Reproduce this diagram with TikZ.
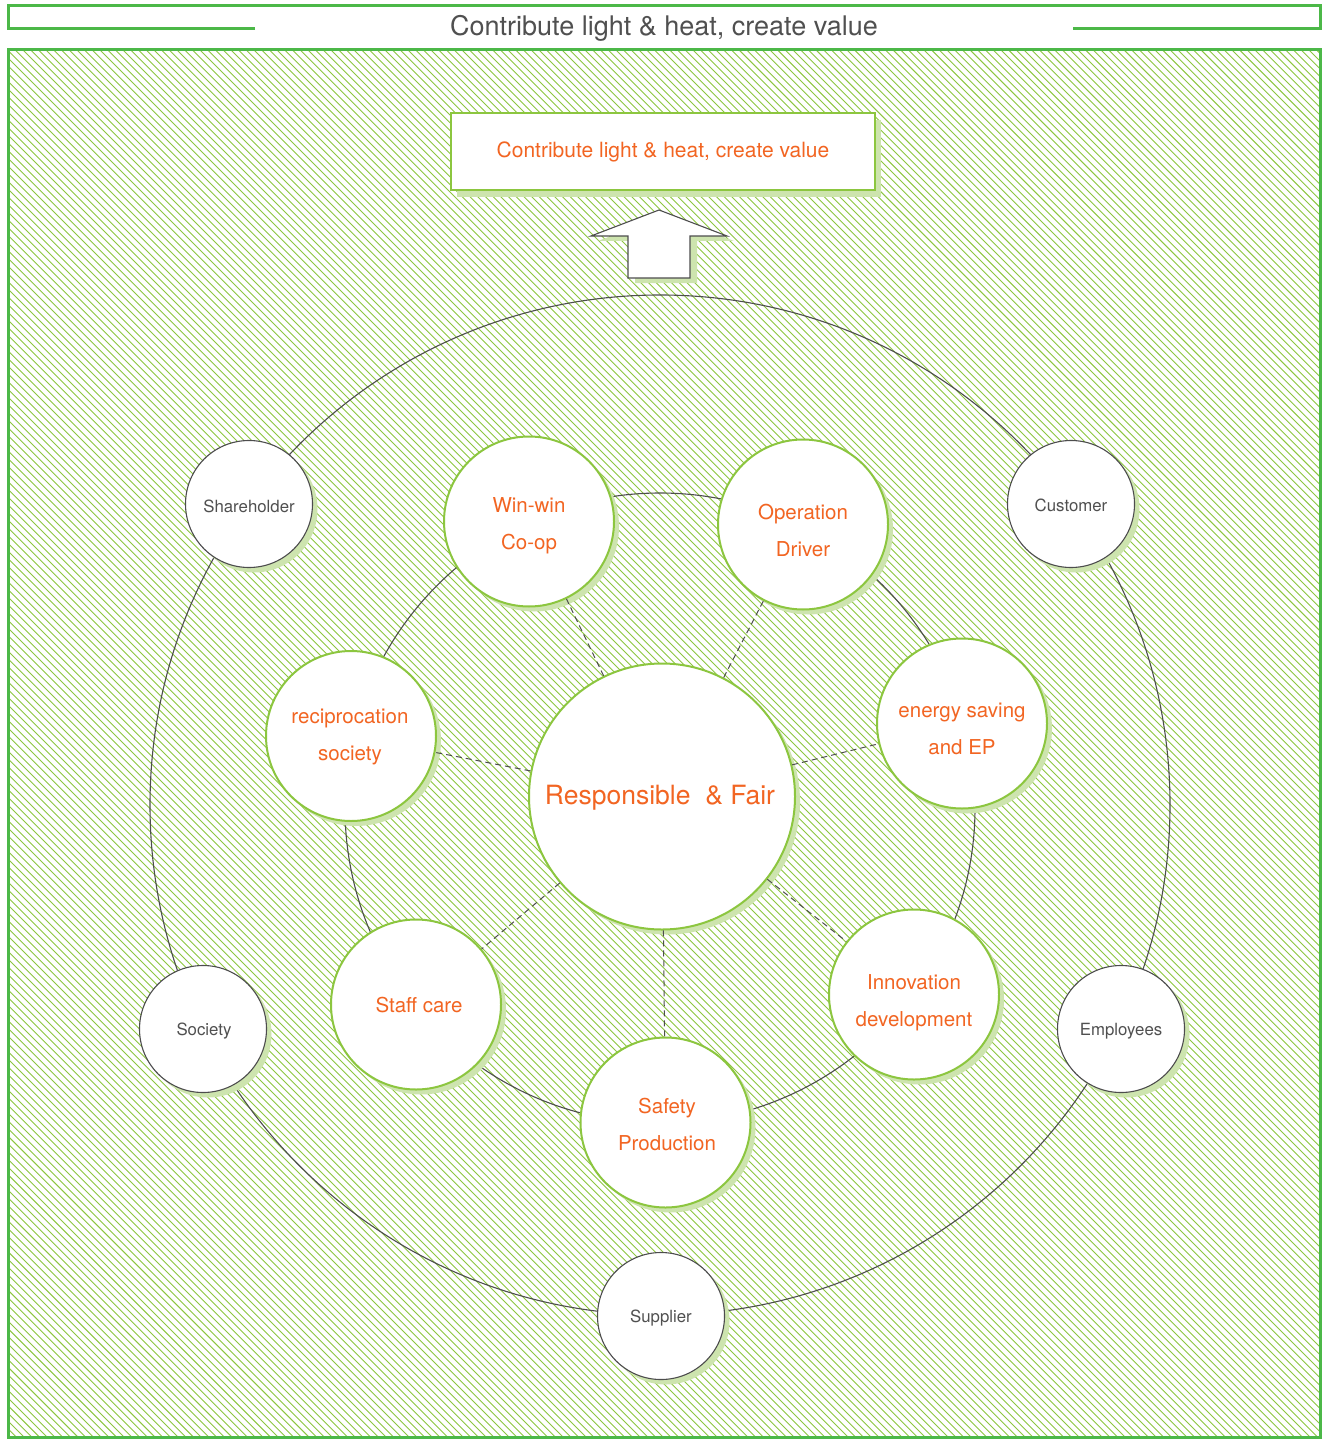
\documentclass[tikz,border=0pt]{standalone}
\usepackage{fontspec}
\setmainfont{TeX Gyre Heros}
\definecolor{framegreen}{HTML}{4CB848}
\definecolor{hatchgreen}{HTML}{8DC63F}
\definecolor{circgreen}{HTML}{8CC63F}
\definecolor{shadowgreen}{HTML}{CDE4AE}
\definecolor{orangetxt}{HTML}{F26522}
\definecolor{graytxt}{HTML}{505050}
\definecolor{ringgray}{HTML}{4D4D4D}
\tikzset{
  hatch/.style={draw=hatchgreen, line width=0.9pt},
  frame/.style={draw=framegreen, line width=3pt},
  ring/.style={draw=ringgray, line width=1.1pt},
  gshadow/.style={preaction={draw=none, fill=shadowgreen, transform canvas={xshift=5pt, yshift=-5pt}}},
  valuebox/.style={circle, draw=circgreen, line width=2pt, fill=white, minimum size=170pt, inner sep=0pt, gshadow},
  valtext/.style={text=orangetxt, align=center, font=\fontsize{20.5}{37}\selectfont, inner sep=0pt},
  corebox/.style={circle, draw=circgreen, line width=2pt, fill=white, minimum size=266pt, inner sep=0pt, gshadow},
  coretext/.style={text=orangetxt, font=\fontsize{26.5}{30}\selectfont, inner sep=0pt},
  partybox/.style={circle, draw=ringgray, line width=1.1pt, fill=white, minimum size=127pt, inner sep=0pt, gshadow},
  partytext/.style={text=graytxt, font=\fontsize{16.8}{20}\selectfont, inner sep=0pt},
  goalbox/.style={rectangle, draw=circgreen, line width=2.5pt, fill=white, minimum width=424pt, minimum height=77pt,
    text=orangetxt, font=\fontsize{21}{25}\selectfont,
    preaction={draw=none, fill=shadowgreen, transform canvas={xshift=6pt, yshift=-7pt}}},
  dashline/.style={draw=ringgray, line width=1pt, dash pattern=on 6pt off 4pt},
  titletext/.style={text=graytxt, font=\fontsize{27}{30}\selectfont}
}
\begin{document}
\begin{tikzpicture}[x=1pt,y=-1pt]
\useasboundingbox (0,0) rectangle (1322,1439);
\fill[white] (0,0) rectangle (1322,1439);
% hatch
\begin{scope}
\clip (8,50) rectangle (1320,1437);
\foreach \i in {0,...,362} { \draw[hatch] ({-1450+7.7*\i},40) -- ++(1410,1410); }
\end{scope}
\draw[frame] (8,50) rectangle (1320,1437);
% title bar
\draw[frame] (255,29) -- (8,29) -- (8,6) -- (1320,6) -- (1320,29) -- (1073,29);
\node[titletext] (title) at (664,28.5) {Contribute light \& heat, create value};
% rings
\draw[ring] (660,805) circle (510);
\draw[ring] (660,808) circle (315);
% arrow
\fill[shadowgreen] (666,215) -- (734,241) -- (697,241) -- (697,283) -- (635,283) -- (635,241) -- (598,241) -- cycle;
\draw[ring, fill=white] (659,210) -- (727,236) -- (690,236) -- (690,278) -- (628,278) -- (628,236) -- (591,236) -- cycle;
% goal box
\node[goalbox] (goal) at (663,151.5) {Contribute light \& heat, create value};
% stakeholders
\node[partybox] (share) at (249,504) {};
\node[partytext] (share-t) at (249,506.5) {Shareholder};
\node[partybox] (cust) at (1071,504) {};
\node[partytext] (cust-t) at (1071,505.5) {Customer};
\node[partybox] (soc) at (203,1029) {};
\node[partytext] (soc-t) at (204,1031.5) {Society};
\node[partybox] (emp) at (1121,1029) {};
\node[partytext] (emp-t) at (1121,1031) {Employees};
\node[partybox] (supp) at (661,1316) {};
\node[partytext] (supp-t) at (661,1318.5) {Supplier};
% values
\node[valuebox] (win) at (529,521.5) {};
\node[valtext] (win-t) at (529,526) {Win-win\\Co-op};
\node[valuebox] (oper) at (803,524.5) {};
\node[valtext] (oper-t) at (803,530) {Operation\\Driver};
\node[valuebox] (energy) at (962,723.5) {};
\node[valtext] (energy-t) at (962,729) {energy saving\\and EP};
\node[valuebox] (innov) at (914,994.5) {};
\node[valtext] (innov-t) at (914,1003) {Innovation\\development};
\node[valuebox] (safe) at (665.5,1122.5) {};
\node[valtext] (safe-t) at (667,1124) {Safety\\Production};
\node[valuebox] (staff) at (416,1004.5) {};
\node[valtext] (staff-t) at (419,1005) {Staff care};
\node[valuebox] (recip) at (351,736) {};
\node[valtext] (recip-t) at (350,737) {reciprocation\\society};
% core
\node[corebox] (core) at (662,796.5) {};
\node[coretext] (core-t) at (660,798) {Responsible\ \ \& Fair};
% dashed links
\foreach \t in {win,oper,energy,innov,safe,staff,recip} { \draw[dashline] (core) -- (\t); }
\end{tikzpicture}
\end{document}
